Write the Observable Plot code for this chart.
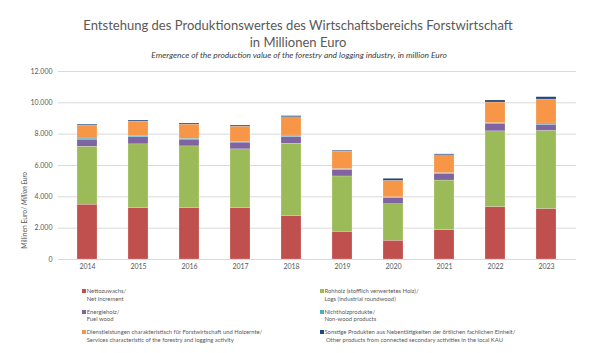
<!DOCTYPE html>
<html>
<head>
<meta charset="utf-8">
<script src="https://cdn.jsdelivr.net/npm/d3@7"></script>
<script src="https://cdn.jsdelivr.net/npm/@observablehq/plot@0.6"></script>
<style>
  html, body { margin: 0; padding: 0; background: #fff; }
  #wrap { position: relative; width: 596px; height: 353px; overflow: hidden; font-family: Lato, "Open Sans", sans-serif; color: #595959; }
  #wrap svg { position: absolute; left: 0; top: 0; }
  .t { position: absolute; white-space: nowrap; line-height: 1; }
  .sw { position: absolute; width: 4px; height: 4px; }
</style>
</head>
<body>
<div id="wrap"></div>
<script>
// ---- data (million euro) ----
const years = ["2014","2015","2016","2017","2018","2019","2020","2021","2022","2023"];
const netIncrement = [3500, 3290, 3270, 3270, 2780, 1770, 1200, 1880, 3350, 3230];
const logs         = [3700, 4060, 3950, 3760, 4610, 3530, 2330, 3160, 4830, 4980];
const fuelWood     = [ 450,  450,  430,  430,  430,  410,  400,  430,  450,  380];
const nonWood      = [  70,   60,   60,   60,   90,   60,   40,   40,   70,   90];
const services     = [ 830,  940,  900,  960, 1170, 1110, 1050, 1140, 1320, 1530];
const other        = [  60,   70,   70,   70,   70,   60,  130,   60,  130,  150];
const yTicks = [0, 2000, 4000, 6000, 8000, 10000, 12000];

const seriesNames = ["Nettozuwachs", "Rohholz", "Energieholz", "Nichtholzprodukte", "Dienstleistungen", "Sonstige"];
const seriesValues = [netIncrement, logs, fuelWood, nonWood, services, other];
const seriesColors = ["#C0504D", "#9BBB59", "#8064A2", "#4BACC6", "#F79646", "#1F497D"];
const legendLines = [
  ["Nettozuwachs/", "Net increment"],
  ["Rohholz (stofflich verwertetes Holz)/", "Logs (industrial roundwood)"],
  ["Energieholz/", "Fuel wood"],
  ["Nichtholzprodukte/", "Non-wood products"],
  ["Dienstleistungen charakteristisch für Forstwirtschaft und Holzernte/", "Services characteristic of the forestry and logging activity"],
  ["Sonstige Produkten aus Nebentätigkeiten der örtlichen fachlichen Einheit/", "\u00a0Other products from connected secondary activities in the local KAU"]
];

const table = [];
years.forEach((yr, i) => {
  seriesNames.forEach((s, k) => table.push({year: yr, series: s, value: seriesValues[k][i]}));
});

const fmt = d3.formatLocale({decimal: ",", thousands: ".", grouping: [3], currency: ["", "€"]}).format(",");

const chart = Plot.plot({
  width: 596, height: 353,
  marginTop: 71, marginBottom: 94, marginLeft: 58, marginRight: 20,
  style: {fontFamily: "Lato, 'Open Sans', sans-serif", fontSize: "7px", color: "#595959", background: "transparent"},
  x: {domain: years, paddingInner: 0.6, paddingOuter: 0.31, label: null},
  y: {domain: [0, 12000], label: null},
  color: {domain: seriesNames, range: seriesColors},
  marks: [
    Plot.gridY(yTicks, {stroke: "#d9d9d9", strokeOpacity: 1, strokeWidth: 1}),
    Plot.axisY(yTicks, {tickSize: 0, tickPadding: 6, tickFormat: fmt, label: null, fill: "#595959"}),
    Plot.axisX({tickSize: 0, tickPadding: 5, label: null, fill: "#595959"}),
    Plot.barY(table, {x: "year", y: "value", fill: "series", stroke: "#ffffff", strokeWidth: 0.4, strokeOpacity: 0.5})
  ]
});
const wrap = document.getElementById("wrap");
wrap.appendChild(chart);

function addText(html, opt) {
  const el = document.createElement("div");
  el.className = "t";
  el.innerHTML = html;
  el.style.fontSize = opt.size + "px";
  if (opt.italic) el.style.fontStyle = "italic";
  if (opt.color) el.style.color = opt.color;
  wrap.appendChild(el);
  if (opt.w) {
    const w0 = el.getBoundingClientRect().width;
    el.style.fontSize = (opt.size * opt.w / w0) + "px";
  }
  const r = el.getBoundingClientRect();
  const left = opt.cx != null ? opt.cx - r.width / 2 : opt.x;
  el.style.left = left + "px";
  el.style.top = (opt.cy - r.height / 2) + "px";
  return el;
}

// titles
const t1 = addText("Entstehung des Produktionswertes des Wirtschaftsbereichs Forstwirtschaft", {size: 14, w: 430, cx: 298, cy: 26, color: "#595959"});
addText("in Millionen Euro", {size: parseFloat(t1.style.fontSize), cx: 298, cy: 43, color: "#595959"});
addText("Emergence of the production value of the forestry and logging industry, in million Euro", {size: 8, w: 296, cx: 299, cy: 55.5, italic: true, color: "#404040"});

// y axis title (rotated)
const yt = document.createElement("div");
yt.className = "t";
yt.innerHTML = "Millinen Euro/ <i>Million Euro</i>";
yt.style.fontSize = "7px";
wrap.appendChild(yt);
{
  const w0 = yt.getBoundingClientRect().width;
  yt.style.fontSize = (7 * 77 / w0) + "px";
  const r = yt.getBoundingClientRect();
  yt.style.left = (24 - r.width / 2) + "px";
  yt.style.top = (210 - r.height / 2) + "px";
  yt.style.transform = "rotate(-90deg)";
}

// legend
const probe = document.createElement("div");
probe.className = "t";
probe.style.fontSize = "7px";
probe.textContent = legendLines[4][0];
wrap.appendChild(probe);
const legendSize = 7 * 176 / probe.getBoundingClientRect().width;
probe.remove();

const rowsY = [291, 311.5, 332];
const colX = [82.3, 320];
seriesNames.forEach((s, k) => {
  const col = k % 2, row = Math.floor(k / 2);
  const sw = document.createElement("div");
  sw.className = "sw";
  sw.style.background = seriesColors[k];
  sw.style.left = colX[col] + "px";
  sw.style.top = (rowsY[row] - 2) + "px";
  wrap.appendChild(sw);
  addText(legendLines[k][0], {size: legendSize, x: colX[col] + 4.4, cy: rowsY[row], color: "#595959"});
  addText(legendLines[k][1], {size: legendSize, x: colX[col] + 4.4, cy: rowsY[row] + 7.7, color: "#595959"});
});
</script>
</body>
</html>
